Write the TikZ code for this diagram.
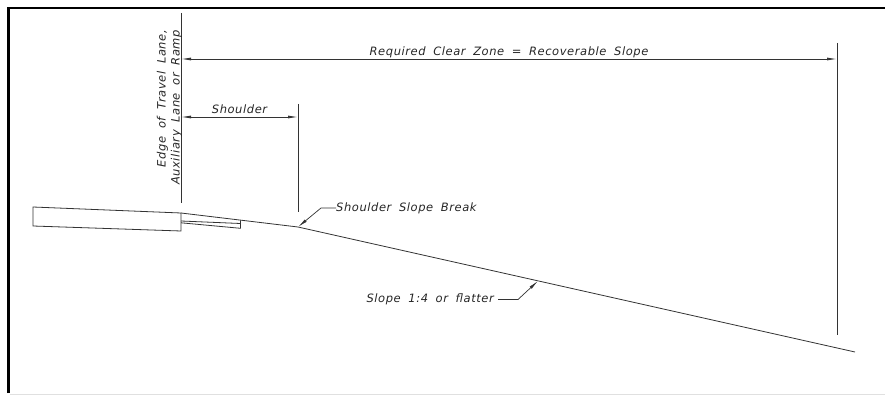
\documentclass[tikz,border=0pt]{standalone}
\usepackage{fontspec}
\newfontfamily\cadfont{DejaVu Sans}[LetterSpace=5,WordSpace=1.8]
\usetikzlibrary{arrows.meta,calc}
\begin{document}
\begin{tikzpicture}[x=1pt,y=-1pt,
		dimline/.style={line width=0.8pt, black!80},
		dimarrow/.style={line width=0.8pt, black!80, {Latex[length=10pt,width=3pt]}-{Latex[length=10pt,width=3pt]}},
		leader/.style={line width=0.7pt, black!80, -{Latex[length=10pt,width=3pt]}},
		lbl/.style={inner sep=0pt, font=\cadfont\itshape\fontsize{11.5}{14}\selectfont, black!85}]
		\useasboundingbox (0,0) rectangle (885,395);
		%rahmen
		\draw[line width=2.5pt] (8.3,393) -- (8.3,8) -- (885,8);
		\draw[black!12, line width=1pt] (9.5,394.3) -- (885,394.3);
		%punkte
		\coordinate (edgeTop) at (181,13);
		\coordinate (edgeBot) at (181,203);
		\coordinate (czTop) at (837,43);
		\coordinate (czBot) at (837,335);
		\coordinate (shTop) at (298,104);
		\coordinate (shBot) at (298,212);
		\coordinate (czL) at (181,59);
		\coordinate (czR) at (837,59);
		\coordinate (shL) at (181,117);
		\coordinate (shR) at (298,117);
		\coordinate (pave) at (181,213);
		\coordinate (brk) at (298,227);
		\coordinate (toe) at (855,352);
		\coordinate (slp) at ($(brk)!0.431!(toe)$);
		%fahrbahn und boeschung
		\draw[dimline] (33,207) -- (pave) -- (181,231) -- (33,226) -- cycle;
		\draw[dimline] (pave) -- (brk) -- (toe);
		\draw[dimline] (181,221) -- (240.5,223.5);
		\draw[dimline] (240.5,220.5) -- (240.5,228.3) -- (181,222.8);
		%masslinien
		\draw[dimline] (edgeTop) -- (edgeBot);
		\draw[dimline] (czTop) -- (czBot);
		\draw[dimline] (shTop) -- (shBot);
		\draw[dimarrow] (czL) -- node[lbl, midway, anchor=base, yshift=3.5pt] (czLbl) {Required Clear Zone = Recoverable Slope} (czR);
		\draw[dimarrow] (shL) -- node[lbl, midway, anchor=base, yshift=3pt] (shLbl) {Shoulder} (shR);
		\node[lbl, rotate=90, align=right, anchor=east] (edgeLbl) at (169.5,30) {Edge of Travel Lane,\\Auxiliary Lane or Ramp};
		%hinweise
		\node[lbl, anchor=west] (brkLbl) at (336,208) {Shoulder Slope Break};
		\draw[leader] (brkLbl.west) -- ++(-15,0) -- (brk);
		\node[lbl, anchor=east] (slpLbl) at (494,299.5) {Slope 1:4 or flatter};
		\draw[leader] ([xshift=4pt]slpLbl.east) -- ++(20,0) -- (slp);
	\end{tikzpicture}
\end{document}
